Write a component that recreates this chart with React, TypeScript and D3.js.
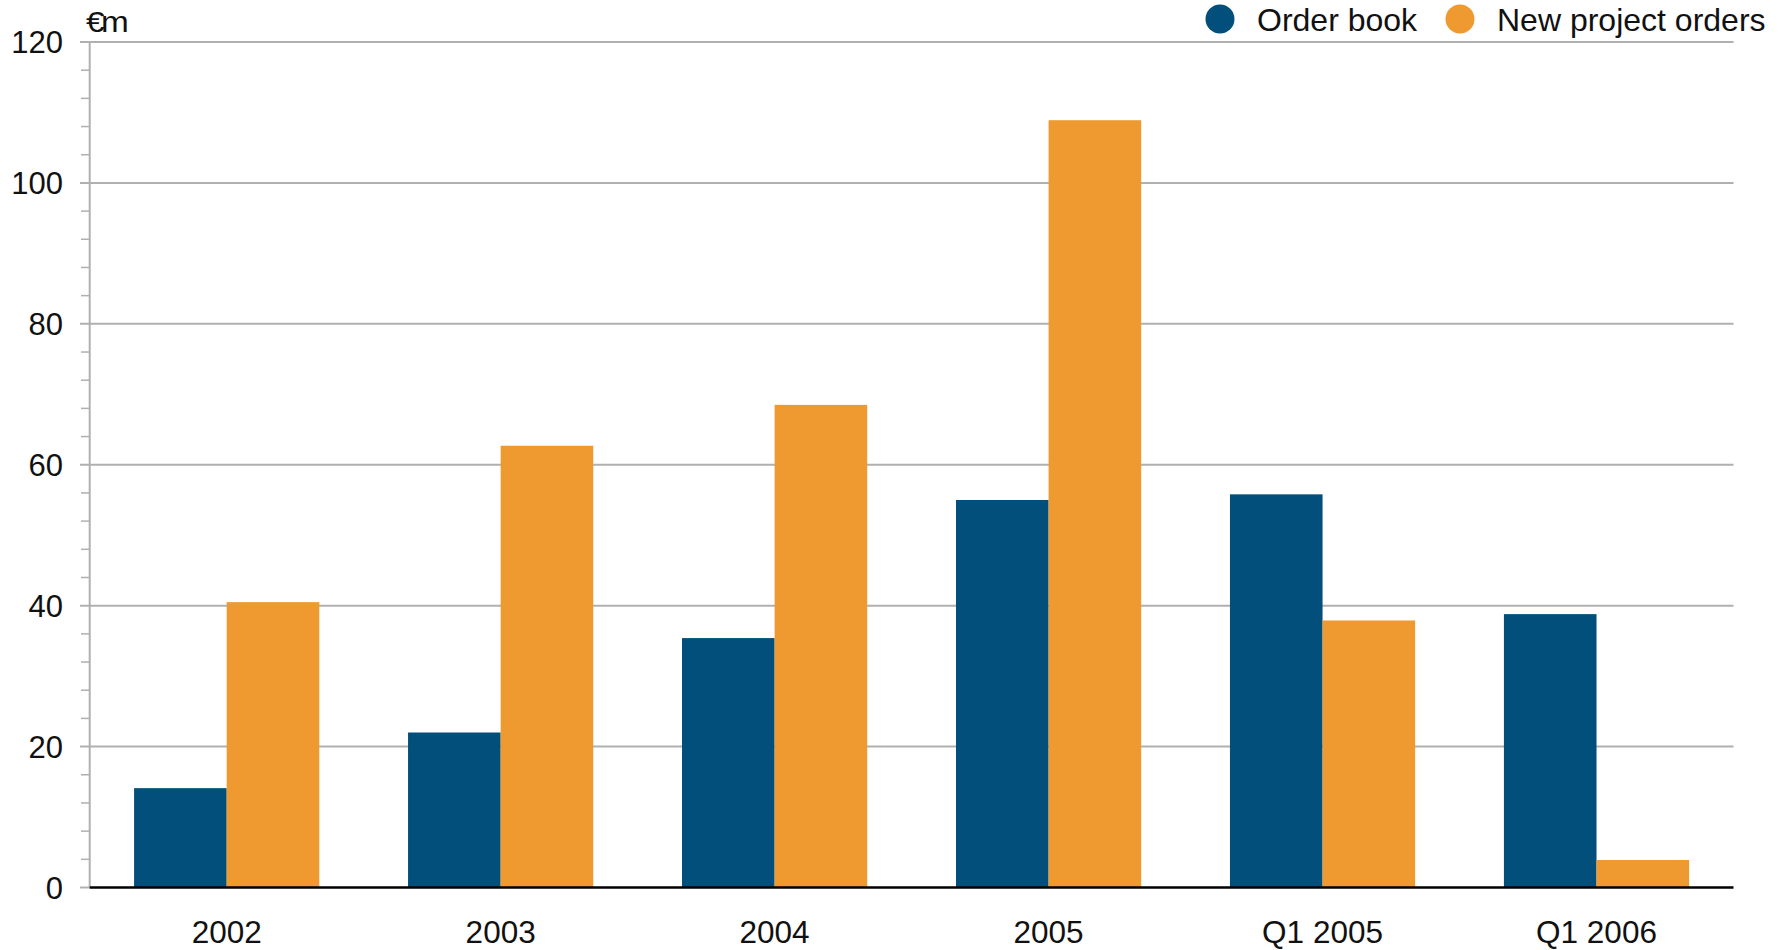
import React from "react";
import * as d3 from "d3";

const categories = ["2002", "2003", "2004", "2005", "Q1 2005", "Q1 2006"];
const seriesNames = ["Order book", "New project orders"];
const orderBook = [14.1, 22.0, 35.4, 55.0, 55.8, 38.8];
const newProjectOrders = [40.5, 62.7, 68.5, 108.9, 37.9, 3.9];
const majorTicks = [0, 20, 40, 60, 80, 100, 120];
const colors = ["#014f7a", "#ee9a31"];

const W = 1780;
const H = 950;
const left = 89.7;
const right = 1733.5;
const top = 42;
const bottom = 887.5;
const font = "'Liberation Sans', Arial, sans-serif";

export default function App() {
  const x0 = d3
    .scaleBand<string>()
    .domain(categories)
    .range([left, right])
    .paddingInner(0.324)
    .paddingOuter(0.162);
  const x1 = d3
    .scaleBand<string>()
    .domain(seriesNames)
    .range([0, x0.bandwidth()])
    .padding(0);
  const y = d3.scaleLinear().domain([0, 120]).range([bottom, top]);
  const minorTicks = d3.range(0, 121, 4).filter((v) => v % 20 !== 0);
  const values = [orderBook, newProjectOrders];

  return (
    <svg
      width={W}
      height={H}
      style={{ position: "absolute", left: 0, top: 0, display: "block", background: "#fff" }}
      fontFamily={font}
    >
      {/* gridlines */}
      {majorTicks
        .filter((t) => t !== 0)
        .map((t) => (
          <line key={"g" + t} x1={80} x2={right} y1={y(t)} y2={y(t)} stroke="#b0b0b0" strokeWidth={2} />
        ))}
      {/* minor ticks */}
      {minorTicks.map((t) => (
        <line key={"m" + t} x1={81} x2={left} y1={y(t)} y2={y(t)} stroke="#b0b0b0" strokeWidth={1.5} />
      ))}
      <line x1={80} x2={left} y1={y(0)} y2={y(0)} stroke="#b0b0b0" strokeWidth={2} />
      {/* y axis line */}
      <line x1={left} x2={left} y1={top - 1} y2={bottom} stroke="#b0b0b0" strokeWidth={2} />
      {/* bars */}
      {categories.map((c, i) => (
        <g key={c} transform={`translate(${x0(c)},0)`}>
          {seriesNames.map((s, j) => (
            <rect
              key={s}
              x={x1(s)}
              y={y(values[j][i])}
              width={x1.bandwidth()}
              height={y(0) - y(values[j][i])}
              fill={colors[j]}
            />
          ))}
        </g>
      ))}
      {/* baseline */}
      <line x1={left} x2={right} y1={y(0)} y2={y(0)} stroke="#000" strokeWidth={2.5} />
      {/* y labels */}
      {majorTicks.map((t) => (
        <text key={"l" + t} x={63} y={y(t)} dy="0.36em" textAnchor="end" fontSize={31} fill="#111">
          {t}
        </text>
      ))}
      {/* x labels */}
      {categories.map((c) => (
        <text
          key={"x" + c}
          x={(x0(c) as number) + x0.bandwidth() / 2}
          y={943}
          textAnchor="middle"
          fontSize={31.5}
          fill="#111"
        >
          {c}
        </text>
      ))}
      {/* unit */}
      <text
        x={0}
        y={0}
        transform="translate(86,31.5) scale(1.15,1)"
        fontSize={29}
        letterSpacing={-3}
        fill="#111"
      >
        €m
      </text>
      {/* legend */}
      <circle cx={1220} cy={19} r={14.5} fill={colors[0]} />
      <text x={1257} y={31} fontSize={32} fill="#111">
        {seriesNames[0]}
      </text>
      <circle cx={1460} cy={19} r={14.5} fill={colors[1]} />
      <text x={1497} y={31} fontSize={32} fill="#111">
        {seriesNames[1]}
      </text>
    </svg>
  );
}
